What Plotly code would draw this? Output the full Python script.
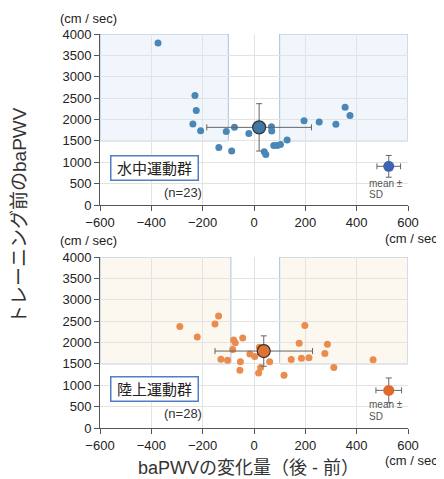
import plotly.graph_objects as go

# ---- data ----
water_dx = [-374, -230, -225, -238, -208, -137, -87, -108, -76, -20, 68, 69, 40, 46,
            77, 91, 103, 129, 195, 254, 319, 355, 374]
water_pre = [3788, 2563, 2209, 1895, 1738, 1345, 1266, 1722, 1816, 1675, 1832, 1730, 1243, 1180,
             1392, 1392, 1416, 1518, 1973, 1942, 1887, 2287, 2091]
water_mean = [20, 1816]
water_sd = [204, 554]

land_dx = [-289, -221, -152, -138, -129, -103, -79, -73, -83, -44, -53, -55, -16, 3,
           21, 26, 18, 61, 117, 145, 185, 214, 176, 198, 276, 286, 311, 464]
land_pre = [2375, 2131, 2431, 2620, 1610, 1587, 2060, 1997, 1839, 2107, 1547, 1350, 1729, 1674,
            1886, 1413, 1287, 1547, 1232, 1603, 1634, 1642, 1981, 2399, 1744, 1957, 1413, 1595]
land_mean = [38, 1800]
land_sd = [190, 355]

legend_pos_water = [525, 905]
legend_sd_water = [46, 255]
legend_pos_land = [525, 880]
legend_sd_land = [50, 290]

x_ticks = [-600, -400, -200, 0, 200, 400, 600]
y_ticks = [0, 500, 1000, 1500, 2000, 2500, 3000, 3500, 4000]

FONT = "Liberation Sans, Arial, Noto Sans CJK JP"
OFF = 8  # default page body margin
W, H = 444 - OFF, 479 - OFF
ML, MT = 100 - OFF, 34 - OFF
MR = W - (408 - OFF)
MB = H - (428 - OFF)
PW, PH = W - ML - MR, H - MT - MB

fig = go.Figure()

def add_group(xa, ya, dx, pre, mean, sd, lpos, lsd, pcol, mcol, lcol):
    fig.add_trace(go.Scatter(x=dx, y=pre, mode="markers", xaxis=xa, yaxis=ya,
                             marker=dict(size=7, color=pcol), showlegend=False))
    fig.add_trace(go.Scatter(x=[mean[0]], y=[mean[1]], mode="markers", xaxis=xa, yaxis=ya,
                             marker=dict(size=13, color=mcol, line=dict(color="#333333", width=1.2)),
                             error_x=dict(type="data", array=[sd[0]], color="#666666", thickness=1, width=3),
                             error_y=dict(type="data", array=[sd[1]], color="#666666", thickness=1, width=3),
                             showlegend=False))
    fig.add_trace(go.Scatter(x=[lpos[0]], y=[lpos[1]], mode="markers", xaxis=xa, yaxis=ya,
                             marker=dict(size=11, color=lcol),
                             error_x=dict(type="data", array=[lsd[0]], color="#666666", thickness=1, width=3),
                             error_y=dict(type="data", array=[lsd[1]], color="#666666", thickness=1, width=3),
                             showlegend=False))

add_group("x", "y", water_dx, water_pre, water_mean, water_sd, legend_pos_water, legend_sd_water,
          "#4a86b6", "#3f77a6", "#3d64b0")
add_group("x2", "y2", land_dx, land_pre, land_mean, land_sd, legend_pos_land, legend_sd_land,
          "#ea8c4e", "#e07232", "#e06a2c")

# shaded regions
for xr, yr, fill, x1l in [("x", "y", "rgba(230,240,250,0.6)", -100), ("x2", "y2", "rgba(252,244,228,0.6)", -90)]:
    fig.add_shape(type="rect", xref=xr, yref=yr, x0=-600, x1=x1l, y0=1500, y1=4000,
                  fillcolor=fill, line=dict(color="#a9c2de", width=1), layer="below")
    fig.add_shape(type="rect", xref=xr, yref=yr, x0=100, x1=600, y0=1500, y1=4000,
                  fillcolor=fill, line=dict(color="#a9c2de", width=1), layer="below")

axis_common = dict(showline=True, linecolor="#555555", linewidth=1, ticks="outside", ticklen=5,
                   tickcolor="#555555", gridcolor="#e3e3e3", zeroline=False, automargin=False,
                   tickfont=dict(family=FONT, size=13, color="#222222"))
fig.update_layout(
    width=W, height=H, margin=dict(l=ML, r=MR, t=MT, b=MB, pad=0, autoexpand=False),
    plot_bgcolor="white", paper_bgcolor="white",
    xaxis=dict(domain=[0, 1], range=[-600, 600], tickvals=x_ticks, anchor="y", **axis_common),
    yaxis=dict(domain=[1 - 171 / PH, 1], range=[0, 4000], tickvals=y_ticks, anchor="x", **axis_common),
    xaxis2=dict(domain=[0, 1], range=[-600, 600], tickvals=x_ticks, anchor="y2", **axis_common),
    yaxis2=dict(domain=[0, 171 / PH], range=[0, 4000], tickvals=y_ticks, anchor="x2", **axis_common),
)

def ann(text, x, y, size=13, color="#222222", xanchor="center", **kw):
    # x, y given in window pixels; convert to paper (plot-area) fractions
    fig.add_annotation(text=text, x=(x - OFF - ML) / PW, y=1 - (y - OFF - MT) / PH,
                       xref="paper", yref="paper",
                       xanchor=xanchor, yanchor="middle", showarrow=False,
                       font=dict(family=FONT, size=size, color=color), **kw)

ann("(cm / sec)", 88, 18)
ann("(cm / sec)", 88, 240)
ann("(cm / sec)", 444, 238, xanchor="right")
ann("(cm / sec)", 444, 460, xanchor="right")

for cy, ny, label, n in [(168, 192, "水中運動群", "(n=23)"), (389, 413, "陸上運動群", "(n=28)")]:
    ann(label, 154, cy, size=15, color="#222222", bordercolor="#4f7fc8", borderwidth=1.5,
        bgcolor="white", width=84, height=21)
    ann(n, 183, ny, size=13, color="#333333")

for yy in (183, 404):
    ann("mean ±", 367, yy, size=10, color="#555555", xanchor="left")
    ann("SD", 367, yy + 12, size=10, color="#555555", xanchor="left")

ann("トレーニング前のbaPWV", 20, 216, size=19, color="#333333", textangle=-90)
ann("baPWVの変化量（後 - 前）", 248, 468, size=18, color="#333333")

fig.write_html("out.html")
